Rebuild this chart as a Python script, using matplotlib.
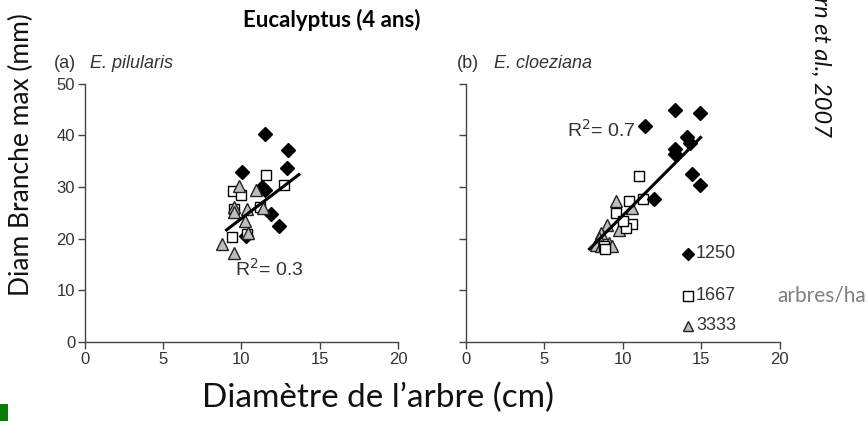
import matplotlib
matplotlib.use("Agg")
import matplotlib.pyplot as plt

# (a) E. pilularis -- diameter of tree (cm) vs max branch diameter (mm)
pil_1250_x = [11.5, 13.0, 12.9, 10.05, 11.3, 11.5, 11.9, 12.4, 10.3]
pil_1250_y = [40.3, 37.1, 33.7, 32.9, 30.0, 29.4, 24.7, 22.5, 20.6]
pil_1667_x = [11.55, 9.45, 10.0, 12.7, 11.2, 9.4, 10.35, 9.5]
pil_1667_y = [32.4, 29.2, 28.5, 30.3, 26.2, 20.3, 20.9, 25.7]
pil_3333_x = [9.85, 10.95, 9.5, 9.5, 10.35, 11.4, 10.2, 10.4, 8.75, 9.5]
pil_3333_y = [30.1, 29.4, 26.2, 25.1, 25.7, 26.0, 23.5, 21.0, 19.0, 17.2]
pil_fit_x = [9.05, 13.67]
pil_fit_y = [21.7, 32.4]

# (b) E. cloeziana
clo_1250_x = [11.4, 13.3, 14.9, 14.1, 14.3, 13.3, 13.3, 14.4, 14.9, 11.95]
clo_1250_y = [41.9, 45.0, 44.3, 39.7, 38.6, 37.3, 36.3, 32.6, 30.3, 27.7]
clo_1667_x = [11.0, 10.4, 11.25, 9.55, 10.6, 10.2, 10.0, 8.8, 8.85]
clo_1667_y = [32.1, 27.2, 27.6, 24.9, 22.9, 22.0, 23.5, 18.5, 18.0]
clo_3333_x = [9.55, 10.6, 9.0, 9.75, 8.6, 8.5, 9.1, 8.3, 8.6, 9.3]
clo_3333_y = [27.2, 26.0, 22.7, 21.7, 21.1, 20.2, 19.2, 18.8, 18.5, 18.5]
clo_fit_x = [7.87, 14.95]
clo_fit_y = [18.0, 39.6]

densities = ["1250", "1667", "3333"]
xticks = [0, 5, 10, 15, 20]
yticks = [0, 10, 20, 30, 40, 50]

TICK_COL = "#333333"
SANS = "Liberation Sans"
DIA = dict(marker="D", color="black", ms=7, ls="none")
SQR = dict(marker="s", mfc="white", mec="black", mew=1.0, ms=7.5, ls="none")
TRI = dict(marker="^", mfc="#bdbdbd", mec="#222222", mew=1.0, ms=8.5, ls="none")

fig = plt.figure(figsize=(8.67, 4.21), dpi=100)
ax1 = fig.add_axes([0.098, 0.188, 0.361, 0.613])
ax2 = fig.add_axes([0.5375, 0.188, 0.362, 0.613])

for ax in (ax1, ax2):
    ax.set_xlim(0, 20)
    ax.set_ylim(0, 50)
    ax.set_xticks(xticks)
    ax.set_yticks(yticks)
    for s in ("top", "right"):
        ax.spines[s].set_visible(False)
    for s in ("left", "bottom"):
        ax.spines[s].set_color("#444444")
        ax.spines[s].set_linewidth(1.0)
    ax.tick_params(colors="#444444", labelcolor=TICK_COL, labelsize=12,
                   length=5, width=1.0, pad=2)
    for lab in ax.get_xticklabels() + ax.get_yticklabels():
        lab.set_family(SANS)
ax2.tick_params(axis="y", labelleft=False)

ax1.plot(pil_1250_x, pil_1250_y, **DIA)
ax1.plot(pil_1667_x, pil_1667_y, **SQR)
ax1.plot(pil_3333_x, pil_3333_y, **TRI)
ax1.plot(pil_fit_x, pil_fit_y, color="black", lw=2.2)

ax2.plot(clo_3333_x, clo_3333_y, **TRI)
ax2.plot(clo_1667_x, clo_1667_y, **SQR)
ax2.plot(clo_1250_x, clo_1250_y, **DIA)
ax2.plot(clo_fit_x, clo_fit_y, color="black", lw=2.2)

ax1.text(11.8, 14.2, "R$^2$= 0.3", ha="center", va="center", fontsize=14,
         color=TICK_COL, family=SANS)
ax2.text(8.6, 41.0, "R$^2$= 0.7", ha="center", va="center", fontsize=14,
         color=TICK_COL, family=SANS)

ax1.text(-2.0, 54.0, "(a)", fontsize=13, color=TICK_COL, family=SANS,
         va="center", ha="left")
ax1.text(0.3, 54.0, "E. pilularis", fontsize=13, color=TICK_COL,
         family=SANS, style="italic", va="center", ha="left")
ax2.text(-0.6, 54.0, "(b)", fontsize=13, color=TICK_COL, family=SANS,
         va="center", ha="left")
ax2.text(1.8, 54.0, "E. cloeziana", fontsize=13, color=TICK_COL,
         family=SANS, style="italic", va="center", ha="left")

# hand-placed legend (rows are unevenly spaced in the source)
leg_rows = [0.341, 0.178, 0.062]
for style, row, lab in zip([dict(DIA, ms=6), dict(SQR, ms=6.5), dict(TRI, ms=7)],
                           leg_rows, densities):
    ax2.plot([0.707], [row], transform=ax2.transAxes, clip_on=False, **style)
    ax2.text(0.733, row, lab, transform=ax2.transAxes, fontsize=13,
             color=TICK_COL, family=SANS, va="center", ha="left")

fig.text(0.8965, 0.297, "arbres/ha", fontsize=15, color="#7f7f7f",
         family="Lato", va="center", ha="left")

fig.text(0.383, 0.953, "Eucalyptus (4 ans)", fontsize=16, fontweight="bold",
         family="Lato", ha="center", va="center")
fig.text(0.025, 0.632, "Diam Branche max (mm)", fontsize=19, rotation=90,
         family="Lato", ha="center", va="center", color="#111111")
fig.text(0.436, 0.055, "Diamètre de l\u2019arbre (cm)", fontsize=24,
         family="Lato", ha="center", va="center", color="#111111")
fig.text(0.946, 1.008, "rn et al., 2007", fontsize=17, rotation=-90,
         style="italic", family="Lato", ha="center", va="top",
         color="#111111")

fig.patches.append(plt.Rectangle((0, 0), 0.0095, 0.04, transform=fig.transFigure,
                                 facecolor="#0a7a0a", edgecolor="none"))

fig.savefig("out.png", dpi=100)
